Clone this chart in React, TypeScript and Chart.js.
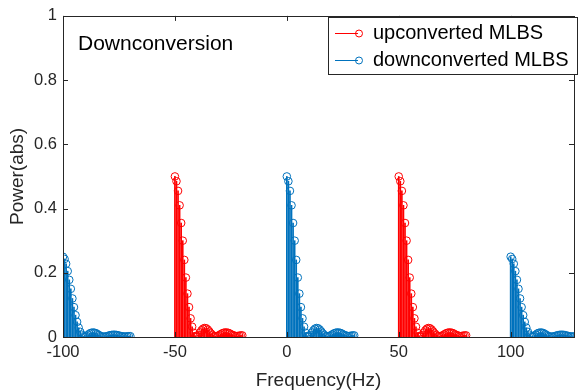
import React, { useEffect, useRef } from 'react';
import { Chart, registerables } from 'chart.js';

Chart.register(...registerables);

// ---------------- data ----------------
const groupCenters = [-100, -50, 0, 50, 100];
const groupSeries = ['down', 'up', 'down', 'up', 'down'];
const groupAmplitude = ['quarter', 'half', 'half', 'half', 'quarter'];

const freqOffsets = [
  0, 0.7, 1.4, 2.1, 2.8, 3.5, 4.2, 4.9, 5.6, 6.3, 7.0, 7.7, 8.4, 9.1, 9.8,
  10.5, 11.2, 11.9, 12.6, 13.3, 14.0, 14.7, 15.4, 16.1, 16.8, 17.5, 18.2,
  18.9, 19.6, 20.3, 21.0, 21.7, 22.4, 23.1, 23.8, 24.5, 25.2, 25.9, 26.6,
  27.3, 28.0, 28.7, 29.4, 30.1,
];

const halfAmpValues = [
  0.5, 0.485, 0.455, 0.41, 0.355, 0.3, 0.24, 0.185, 0.135, 0.093, 0.058,
  0.032, 0.013, 0.003, 0.001, 0.006, 0.014, 0.021, 0.026, 0.028, 0.027,
  0.023, 0.017, 0.011, 0.006, 0.003, 0.002, 0.003, 0.005, 0.008, 0.011,
  0.013, 0.014, 0.014, 0.013, 0.011, 0.008, 0.006, 0.004, 0.003, 0.003,
  0.004, 0.005, 0.005,
];

const quarterAmpValues = [
  0.25, 0.243, 0.228, 0.205, 0.178, 0.15, 0.12, 0.093, 0.068, 0.047, 0.029,
  0.016, 0.007, 0.002, 0.001, 0.003, 0.007, 0.011, 0.013, 0.014, 0.0135,
  0.012, 0.009, 0.006, 0.003, 0.0015, 0.001, 0.0015, 0.0025, 0.004, 0.0055,
  0.0065, 0.007, 0.007, 0.0065, 0.0055, 0.004, 0.003, 0.002, 0.0015, 0.0015,
  0.002, 0.0025, 0.0025,
];

const xTicks = [-100, -50, 0, 50, 100];
const yTicks = [0, 0.2, 0.4, 0.6, 0.8, 1];
const xRange = [-100, 128.3];
const yRange = [0, 1];

const seriesLabels = { up: 'upconverted MLBS', down: 'downconverted MLBS' };
const annotationText = 'Downconversion';

// ---------------- styles ----------------
const RED = '#FF0000';
const BLUE = '#0072BD';
const AXIS = '#262626';
const FONT = "'Liberation Sans', Arial, Helvetica, sans-serif";

function buildPoints(series: string) {
  const pts: { x: number; y: number }[] = [];
  groupCenters.forEach((c, g) => {
    if (groupSeries[g] !== series) return;
    const vals = groupAmplitude[g] === 'half' ? halfAmpValues : quarterAmpValues;
    freqOffsets.forEach((o, i) => pts.push({ x: c + o, y: vals[i] }));
  });
  return pts;
}

const framePlugin = {
  id: 'matlabFrame',
  afterDraw(chart: any) {
    const { ctx, chartArea: a, scales } = chart;
    const xs = scales.x;
    const ys = scales.y;
    ctx.save();
    ctx.strokeStyle = AXIS;
    ctx.lineWidth = 1;
    ctx.strokeRect(Math.round(a.left) + 0.5, Math.round(a.top) + 0.5, Math.round(a.right - a.left), Math.round(a.bottom - a.top));
    const tl = 5;
    ctx.beginPath();
    xTicks.forEach((v) => {
      const px = Math.round(xs.getPixelForValue(v)) + 0.5;
      ctx.moveTo(px, a.bottom);
      ctx.lineTo(px, a.bottom - tl);
      ctx.moveTo(px, a.top);
      ctx.lineTo(px, a.top + tl);
    });
    yTicks.forEach((v) => {
      const py = Math.round(ys.getPixelForValue(v)) + 0.5;
      ctx.moveTo(a.left, py);
      ctx.lineTo(a.left + tl, py);
      ctx.moveTo(a.right, py);
      ctx.lineTo(a.right - tl, py);
    });
    ctx.stroke();

    // annotation text
    ctx.fillStyle = '#000000';
    ctx.font = `21px ${FONT}`;
    ctx.textBaseline = 'middle';
    ctx.textAlign = 'left';
    ctx.fillText(annotationText, a.left + 15, a.top + 28);

    // legend
    const bx = 328.5, by = 17.5, bw = 249, bh = 57;
    ctx.fillStyle = '#ffffff';
    ctx.fillRect(bx, by, bw, bh);
    ctx.strokeStyle = AXIS;
    ctx.strokeRect(bx, by, bw, bh);
    const entries = [
      { label: seriesLabels.up, color: RED, y: 33 },
      { label: seriesLabels.down, color: BLUE, y: 60 },
    ];
    entries.forEach((e) => {
      ctx.strokeStyle = e.color;
      ctx.lineWidth = 1;
      ctx.beginPath();
      ctx.moveTo(335, e.y + 0.5);
      ctx.lineTo(358, e.y + 0.5);
      ctx.stroke();
      ctx.beginPath();
      ctx.arc(359, e.y + 0.5, 3.5, 0, Math.PI * 2);
      ctx.stroke();
      ctx.fillStyle = '#000000';
      ctx.font = `20px ${FONT}`;
      ctx.fillText(e.label, 373, e.y);
    });
    ctx.restore();
  },
};

export default function App() {
  const ref = useRef<HTMLCanvasElement | null>(null);
  useEffect(() => {
    if (!ref.current) return;
    const upPts = buildPoints('up');
    const downPts = buildPoints('down');
    const chart = new Chart(ref.current, {
      type: 'bar',
      data: {
        datasets: [
          { type: 'bar', label: 'up stems', data: upPts as any, backgroundColor: RED, barThickness: 1, grouped: false, order: 2 } as any,
          { type: 'bar', label: 'down stems', data: downPts as any, backgroundColor: BLUE, barThickness: 1, grouped: false, order: 2 } as any,
          { type: 'scatter', label: seriesLabels.up, data: upPts as any, pointRadius: 3.8, pointBorderWidth: 1, borderColor: RED, pointBorderColor: RED, pointBackgroundColor: 'rgba(0,0,0,0)', showLine: false, order: 1 } as any,
          { type: 'scatter', label: seriesLabels.down, data: downPts as any, pointRadius: 3.8, pointBorderWidth: 1, borderColor: BLUE, pointBorderColor: BLUE, pointBackgroundColor: 'rgba(0,0,0,0)', showLine: false, order: 1 } as any,
        ],
      },
      options: {
        responsive: false,
        animation: false,
        events: [],
        layout: { padding: { top: 12, right: 1, left: 0, bottom: 0 } },
        plugins: { legend: { display: false }, tooltip: { enabled: false } },
        scales: {
          x: {
            type: 'linear',
            min: xRange[0],
            max: xRange[1],
            offset: false,
            grid: { display: false, drawTicks: false },
            border: { display: false },
            afterBuildTicks: (s: any) => { s.ticks = xTicks.map((v) => ({ value: v })); },
            afterFit: (s: any) => { s.height = 55; },
            ticks: { color: AXIS, font: { family: FONT, size: 16.5 }, padding: 6, maxRotation: 0 },
            title: { display: true, text: 'Frequency(Hz)', color: AXIS, font: { family: FONT, size: 19 }, padding: { top: 0, bottom: 0 } },
          },
          y: {
            type: 'linear',
            min: yRange[0],
            max: yRange[1],
            grid: { display: false, drawTicks: false },
            border: { display: false },
            afterBuildTicks: (s: any) => { s.ticks = yTicks.map((v) => ({ value: v })); },
            afterFit: (s: any) => { s.width = 63; },
            ticks: { color: AXIS, font: { family: FONT, size: 16.5 }, padding: 6, callback: (v: any) => String(v) },
            title: { display: true, text: 'Power(abs)', color: AXIS, font: { family: FONT, size: 19 }, padding: { top: 6, bottom: 0 } },
          },
        },
      },
      plugins: [framePlugin],
    });
    return () => chart.destroy();
  }, []);
  return (
    <div style={{ position: 'absolute', left: 0, top: 0, width: 579, height: 392, background: '#fff' }}>
      <canvas ref={ref} width={579} height={392} />
    </div>
  );
}
